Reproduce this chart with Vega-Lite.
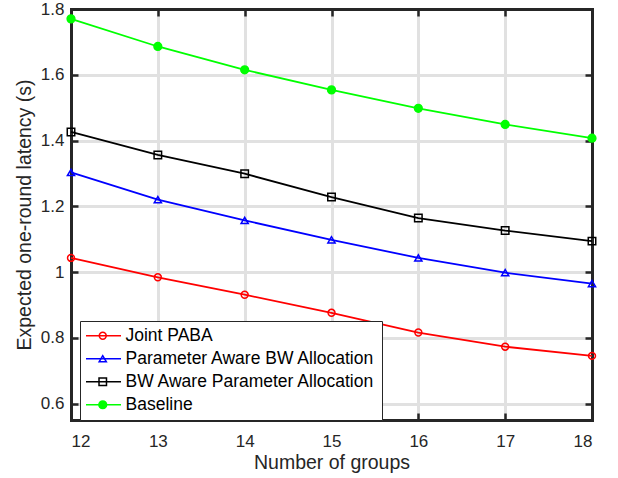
{
  "$schema": "https://vega.github.io/schema/vega-lite/v6.json",
  "width": 521,
  "height": 411,
  "autosize": {"type": "none"},
  "padding": {"left": 71, "top": 9, "right": 26, "bottom": 58},
  "background": "white",
  "config": {
    "view": {"stroke": null},
    "font": "Liberation Sans",
    "axis": {
      "domain": true,
      "domainColor": "#262626",
      "domainWidth": 3,
      "domainCap": "square",
      "tickColor": "#262626",
      "tickWidth": 2.5,
      "tickSize": -7,
      "labelColor": "#262626",
      "labelFontSize": 17,
      "titleColor": "#262626",
      "titleFontSize": 19.5,
      "titleFontWeight": "normal",
      "gridWidth": 3,
      "gridOpacity": 1
    }
  },
  "data": {
    "values": [
      {"g": 12, "series": "Joint PABA", "v": 1.043},
      {"g": 13, "series": "Joint PABA", "v": 0.984},
      {"g": 14, "series": "Joint PABA", "v": 0.931},
      {"g": 15, "series": "Joint PABA", "v": 0.876},
      {"g": 16, "series": "Joint PABA", "v": 0.816},
      {"g": 17, "series": "Joint PABA", "v": 0.773},
      {"g": 18, "series": "Joint PABA", "v": 0.745},
      {"g": 12, "series": "Parameter Aware BW Allocation", "v": 1.303},
      {"g": 13, "series": "Parameter Aware BW Allocation", "v": 1.220},
      {"g": 14, "series": "Parameter Aware BW Allocation", "v": 1.157},
      {"g": 15, "series": "Parameter Aware BW Allocation", "v": 1.098},
      {"g": 16, "series": "Parameter Aware BW Allocation", "v": 1.043},
      {"g": 17, "series": "Parameter Aware BW Allocation", "v": 0.998},
      {"g": 18, "series": "Parameter Aware BW Allocation", "v": 0.965},
      {"g": 12, "series": "BW Aware Parameter Allocation", "v": 1.426},
      {"g": 13, "series": "BW Aware Parameter Allocation", "v": 1.356},
      {"g": 14, "series": "BW Aware Parameter Allocation", "v": 1.299},
      {"g": 15, "series": "BW Aware Parameter Allocation", "v": 1.228},
      {"g": 16, "series": "BW Aware Parameter Allocation", "v": 1.164},
      {"g": 17, "series": "BW Aware Parameter Allocation", "v": 1.126},
      {"g": 18, "series": "BW Aware Parameter Allocation", "v": 1.094},
      {"g": 12, "series": "Baseline", "v": 1.770},
      {"g": 13, "series": "Baseline", "v": 1.686},
      {"g": 14, "series": "Baseline", "v": 1.615},
      {"g": 15, "series": "Baseline", "v": 1.554},
      {"g": 16, "series": "Baseline", "v": 1.498},
      {"g": 17, "series": "Baseline", "v": 1.449},
      {"g": 18, "series": "Baseline", "v": 1.407}
    ]
  },
  "layer": [
    {
      "mark": {"type": "line", "strokeWidth": 1.8},
      "encoding": {
        "x": {
          "field": "g", "type": "quantitative",
          "scale": {"domain": [12, 18], "nice": false, "zero": false},
          "axis": {
            "orient": "bottom", "values": [12, 13, 14, 15, 16, 17, 18], "title": "Number of groups",
            "labelPadding": 20, "titlePadding": 4, "grid": true,
            "gridColor": {"condition": {"test": "datum.value === 12 || datum.value === 18", "value": "transparent"}, "value": "#e1e1e1"}
          }
        },
        "y": {
          "field": "v", "type": "quantitative",
          "scale": {"domain": [0.55, 1.8], "nice": false, "zero": false},
          "axis": {
            "orient": "left", "values": [0.6, 0.8, 1, 1.2, 1.4, 1.6, 1.8], "format": "~g",
            "title": "Expected one-round latency (s)", "labelPadding": 14, "titlePadding": 6, "grid": true,
            "gridColor": {"condition": {"test": "datum.value > 1.79", "value": "transparent"}, "value": "#e1e1e1"}
          }
        },
        "stroke": {
          "field": "series", "type": "nominal",
          "scale": {
            "domain": ["Joint PABA", "Parameter Aware BW Allocation", "BW Aware Parameter Allocation", "Baseline", "_"],
            "range": ["#ff0000", "#0000ff", "#000000", "#00ff00", "#ffffff"]
          },
          "legend": {
            "orient": "none",
            "legendX": 9,
            "legendY": 312,
            "values": ["Joint PABA", "Parameter Aware BW Allocation", "BW Aware Parameter Allocation", "Baseline"],
            "title": null,
            "fillColor": "white",
            "strokeColor": "#262626",
            "padding": 6,
            "labelFontSize": 17.5,
            "labelColor": "#000000",
            "labelOffset": 22,
            "labelLimit": 400,
            "symbolType": "M-2.5,0H7.5",
            "symbolSize": 49,
            "symbolStrokeWidth": 1.5,
            "rowPadding": 4
          }
        }
      }
    },
    {
      "mark": {"type": "point", "strokeWidth": 1.5, "opacity": 1},
      "encoding": {
        "x": {
          "field": "g", "type": "quantitative",
          "scale": {"domain": [12, 18], "nice": false, "zero": false},
          "axis": {"orient": "top", "values": [12, 13, 14, 15, 16, 17, 18], "labels": false, "title": null, "grid": false}
        },
        "y": {
          "field": "v", "type": "quantitative",
          "scale": {"domain": [0.55, 1.8], "nice": false, "zero": false},
          "axis": {"orient": "right", "values": [0.6, 0.8, 1, 1.2, 1.4, 1.6, 1.8], "labels": false, "title": null, "grid": false}
        },
        "color": {
          "field": "series", "type": "nominal",
          "scale": {
            "domain": ["Joint PABA", "Parameter Aware BW Allocation", "BW Aware Parameter Allocation", "Baseline"],
            "range": ["#ff0000", "#0000ff", "#000000", "#00ff00"]
          },
          "legend": {"orient": "none", "legendX": 23, "legendY": 318, "title": null, "padding": 0, "labelFontSize": 17.5, "labelColor": "transparent", "labelExpr": "' '", "labelOffset": 22, "labelLimit": 400, "rowPadding": 4, "symbolStrokeWidth": 1.5}
        },
        "shape": {
          "field": "series", "type": "nominal",
          "scale": {
            "domain": ["Joint PABA", "Parameter Aware BW Allocation", "BW Aware Parameter Allocation", "Baseline"],
            "range": ["circle", "triangle-up", "square", "circle"]
          },
          "legend": {"orient": "none", "legendX": 23, "legendY": 318, "title": null, "padding": 0, "labelFontSize": 17.5, "labelColor": "transparent", "labelExpr": "' '", "labelOffset": 22, "labelLimit": 400, "rowPadding": 4, "symbolStrokeWidth": 1.5}
        },
        "fill": {
          "field": "series", "type": "nominal",
          "scale": {
            "domain": ["Joint PABA", "Parameter Aware BW Allocation", "BW Aware Parameter Allocation", "Baseline"],
            "range": ["transparent", "transparent", "transparent", "#00ff00"]
          },
          "legend": {"orient": "none", "legendX": 23, "legendY": 318, "title": null, "padding": 0, "labelFontSize": 17.5, "labelColor": "transparent", "labelExpr": "' '", "labelOffset": 22, "labelLimit": 400, "rowPadding": 4, "symbolStrokeWidth": 1.5}
        },
        "size": {
          "field": "series", "type": "nominal",
          "scale": {
            "domain": ["Joint PABA", "Parameter Aware BW Allocation", "BW Aware Parameter Allocation", "Baseline"],
            "range": [48, 60, 20, 28]
          },
          "legend": {"orient": "none", "legendX": 23, "legendY": 318, "title": null, "padding": 0, "labelFontSize": 17.5, "labelColor": "transparent", "labelExpr": "' '", "labelOffset": 22, "labelLimit": 400, "rowPadding": 4, "symbolStrokeWidth": 1.5}
        }
      }
    }
  ],
  "resolve": {
    "scale": {"x": "independent", "y": "independent"},
    "axis": {"x": "independent", "y": "independent"}
  }
}
